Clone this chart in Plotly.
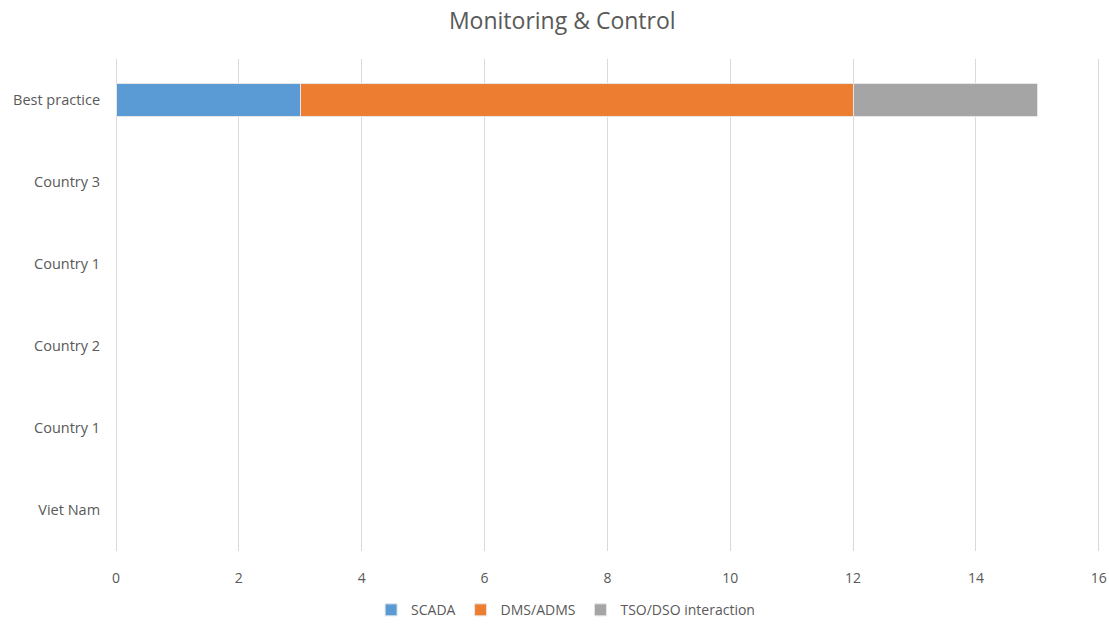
import plotly.graph_objects as go

# Rows listed bottom to top
countries = ["Viet Nam", "Country 1", "Country 2", "Country 1", "Country 3", "Best practice"]
scada = [None, None, None, None, None, 3]
dms_adms = [None, None, None, None, None, 9]
tso_dso = [None, None, None, None, None, 3]

series = [
    ("SCADA", scada, "#5B9BD5"),
    ("DMS/ADMS", dms_adms, "#ED7D31"),
    ("TSO/DSO interaction", tso_dso, "#A5A5A5"),
]

# Numeric row positions so repeated names stay as separate rows
rows = list(range(len(countries)))

fig = go.Figure()
for name, vals, color in series:
    fig.add_trace(go.Bar(
        x=vals, y=rows, name=name, orientation="h",
        marker=dict(color=color, line=dict(color="#e6e6e6", width=1)),
        width=0.4,
    ))

font_family = "'Open Sans', sans-serif"
grey = "#595959"

fig.update_layout(
    barmode="stack",
    width=1109, height=624,
    margin=dict(l=116, r=9, t=59, b=73),
    paper_bgcolor="white", plot_bgcolor="white",
    font=dict(family=font_family, color=grey, size=14),
    title=dict(text="Monitoring & Control", x=0.507, xref="container",
               y=0.966, yref="container", yanchor="middle",
               font=dict(size=23, color=grey)),
    xaxis=dict(range=[0, 16.02], tickvals=[0, 2, 4, 6, 8, 10, 12, 14, 16],
               automargin=False,
               showgrid=True, gridcolor="#d9d9d9", gridwidth=1,
               zeroline=True, zerolinecolor="#d9d9d9", zerolinewidth=1,
               showline=False,
               ticks="outside", ticklen=14, tickcolor="rgba(0,0,0,0)",
               tickfont=dict(size=14, color=grey)),
    yaxis=dict(range=[-0.5, 5.5], tickvals=rows, ticktext=countries,
               automargin=False,
               showgrid=False, zeroline=False, showline=False,
               ticks="outside", ticklen=12, tickcolor="rgba(0,0,0,0)",
               tickfont=dict(size=14.5, color=grey)),
    legend=dict(orientation="h", x=0.51, xref="container", xanchor="center",
                y=0.022, yref="container", yanchor="middle",
                font=dict(size=14, color=grey), traceorder="normal",
                itemwidth=30),
    showlegend=True,
)

fig.write_html("out.html")
